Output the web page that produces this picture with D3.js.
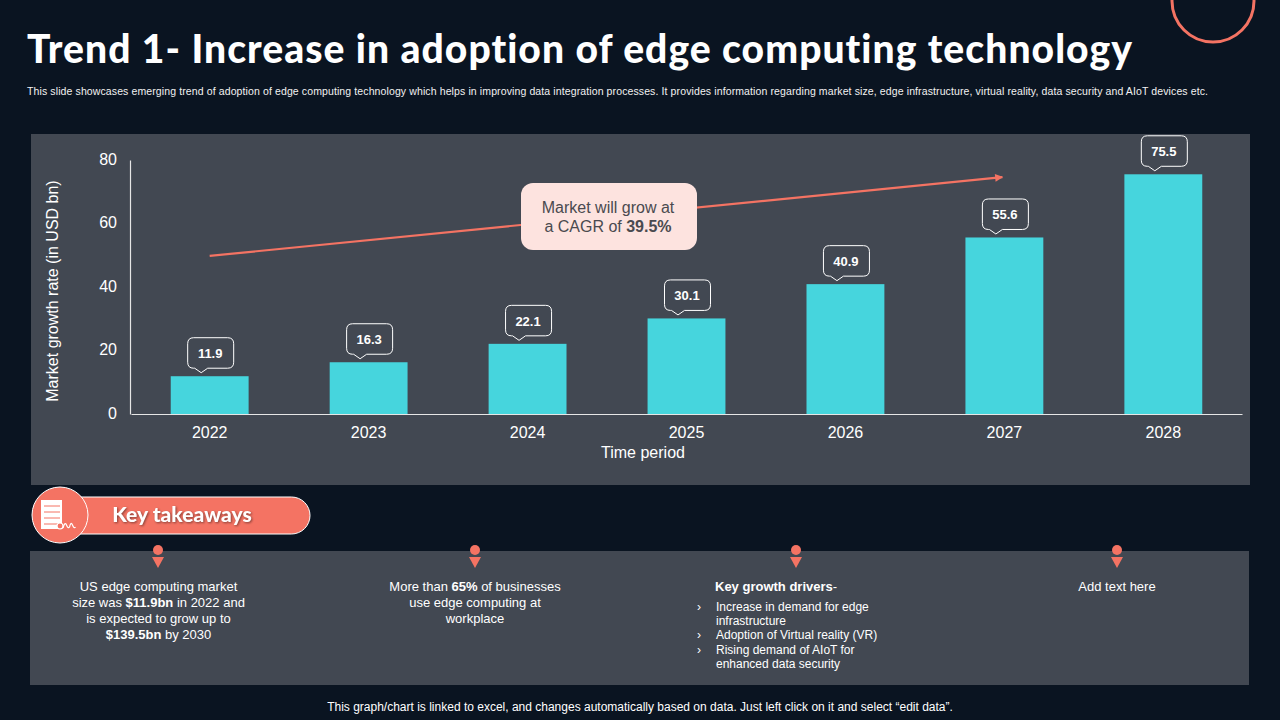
<!DOCTYPE html>
<html>
<head>
<meta charset="utf-8">
<script src="https://cdn.jsdelivr.net/npm/d3@7"></script>
<style>
  html, body { margin: 0; padding: 0; background: #0a1421; overflow: hidden; }
  text { font-family: "Liberation Sans", Arial, sans-serif; }
</style>
</head>
<body>
<div id="chart"></div>
<script>
// chart data
const years = ["2022", "2023", "2024", "2025", "2026", "2027", "2028"];
const marketSize = [11.9, 16.3, 22.1, 30.1, 40.9, 55.6, 75.5];
const yTicks = [0, 20, 40, 60, 80];
const trendYears = ["2022", "2027"];
const trendValues = [49.8, 74.6];

const width = 1280, height = 720;
const coral = "#f47363", teal = "#46d5dd", panel = "#424852";

const svg = d3.select("#chart").append("svg")
  .attr("width", width)
  .attr("height", height)
  .style("display", "block");

svg.append("rect").attr("width", width).attr("height", height).attr("fill", "#0a1421");

// corner circle, mostly off the slide
svg.append("circle").attr("cx", 1213).attr("cy", 1).attr("r", 41)
  .attr("fill", "none").attr("stroke", coral).attr("stroke-width", 3);

svg.append("text")
  .attr("x", 27).attr("y", 63)
  .attr("font-weight", 900).attr("font-size", 39)
  .attr("textLength", 1105).attr("lengthAdjust", "spacing")
  .attr("fill", "#fff")
  .style("font-family", "Lato")
  .style("font-variant-ligatures", "none")
  .text("Trend 1- Increase in adoption of edge computing technology");

svg.append("text")
  .attr("x", 27).attr("y", 94.5)
  .attr("font-size", 10.5).attr("fill", "#f2f2f2")
  .attr("textLength", 1181).attr("lengthAdjust", "spacing")
  .text("This slide showcases emerging trend of adoption of edge computing technology which helps in improving data integration processes. It provides information regarding market size, edge infrastructure, virtual reality, data security and AIoT devices etc.");

// panels
svg.append("rect").attr("x", 31).attr("y", 134).attr("width", 1219).attr("height", 351).attr("fill", panel);
svg.append("rect").attr("x", 30).attr("y", 551).attr("width", 1219).attr("height", 134).attr("fill", panel);

// scales
const x = d3.scaleBand().domain(years).range([131, 1242]).paddingInner(0.51).paddingOuter(0.25);
const y = d3.scaleLinear().domain([0, 80]).range([414, 160]);

// bars
svg.append("g").selectAll("rect")
  .data(marketSize)
  .join("rect")
    .attr("x", (d, i) => x(years[i]))
    .attr("y", d => y(d))
    .attr("width", x.bandwidth())
    .attr("height", d => y(0) - y(d))
    .attr("fill", teal);

// axes
const xAxis = svg.append("g")
  .attr("transform", "translate(0," + y(0) + ")")
  .call(d3.axisBottom(x).tickSize(0).tickPadding(13));
const yAxis = svg.append("g")
  .attr("transform", "translate(130,0)")
  .call(d3.axisLeft(y).tickValues(yTicks).tickSize(0).tickPadding(13));
[xAxis, yAxis].forEach(a => {
  a.select(".domain").attr("stroke", "#e6e6e6").attr("stroke-width", 1.2);
  a.selectAll("text").attr("fill", "#fff").attr("font-size", 16)
    .style("font-family", '"Liberation Sans", Arial, sans-serif');
});
yAxis.selectAll("text").attr("dy", "0.28em");

svg.append("text")
  .attr("x", 643).attr("y", 458).attr("text-anchor", "middle")
  .attr("font-size", 16).attr("fill", "#fff").text("Time period");
svg.append("text")
  .attr("transform", "translate(58,291)rotate(-90)").attr("text-anchor", "middle")
  .attr("font-size", 16).attr("fill", "#fff").text("Market growth rate (in USD bn)");

// trend arrow
svg.append("defs").append("marker")
  .attr("id", "arrow").attr("viewBox", "0 0 10 10")
  .attr("refX", 9).attr("refY", 5)
  .attr("markerWidth", 9).attr("markerHeight", 8)
  .attr("markerUnits", "userSpaceOnUse")
  .attr("orient", "auto")
  .append("path").attr("d", "M0,0L10,5L0,10Z").attr("fill", coral);

const bandCenter = yr => x(yr) + x.bandwidth() / 2;
svg.append("line")
  .attr("x1", bandCenter(trendYears[0])).attr("y1", y(trendValues[0]))
  .attr("x2", bandCenter(trendYears[1]) - 2).attr("y2", y(trendValues[1]))
  .attr("stroke", coral).attr("stroke-width", 2.2)
  .attr("marker-end", "url(#arrow)");

// CAGR box
svg.append("rect").attr("x", 521).attr("y", 183).attr("width", 176).attr("height", 67)
  .attr("rx", 12).attr("fill", "#fde3df");
svg.append("text").attr("x", 608).attr("y", 213).attr("text-anchor", "middle")
  .attr("font-size", 16).attr("fill", "#4a4a4f").text("Market will grow at");
const cagr = svg.append("text").attr("x", 608).attr("y", 232).attr("text-anchor", "middle")
  .attr("font-size", 16).attr("fill", "#4a4a4f");
cagr.append("tspan").text("a CAGR of ");
cagr.append("tspan").attr("font-weight", 700).text("39.5%");

// value callouts, box sits a little right of the bar with the tail left of centre
function bubblePath(cx, tip) {
  const w = 46, h = 30.5, r = 6, bottom = tip - 4.5, top = bottom - h;
  const l = cx - w / 2, rgt = cx + w / 2;
  return "M" + (l + r) + "," + top +
    "H" + (rgt - r) + "Q" + rgt + "," + top + " " + rgt + "," + (top + r) +
    "V" + (bottom - r) + "Q" + rgt + "," + bottom + " " + (rgt - r) + "," + bottom +
    "H" + (cx - 3) + "L" + (cx - 9.5) + "," + tip + "L" + (cx - 16) + "," + bottom +
    "H" + (l + r) + "Q" + l + "," + bottom + " " + l + "," + (bottom - r) +
    "V" + (top + r) + "Q" + l + "," + top + " " + (l + r) + "," + top + "Z";
}
const bubbles = svg.append("g").selectAll("g").data(marketSize).join("g");
bubbles.append("path")
  .attr("d", (d, i) => bubblePath(bandCenter(years[i]) + 1, y(d) - 3.5))
  .attr("fill", panel).attr("stroke", "#fff").attr("stroke-width", 1);
bubbles.append("text")
  .attr("x", (d, i) => bandCenter(years[i]) + 0.5)
  .attr("y", d => y(d) - 18)
  .attr("text-anchor", "middle")
  .attr("font-size", 13).attr("font-weight", 700).attr("fill", "#fff")
  .text(d => d);

// key takeaways banner
svg.append("rect").attr("x", 60).attr("y", 497).attr("width", 250).attr("height", 37)
  .attr("rx", 18.5).attr("fill", coral).attr("stroke", "#fff").attr("stroke-width", 1);
svg.append("circle").attr("cx", 60).attr("cy", 515).attr("r", 28)
  .attr("fill", coral).attr("stroke", "#fff").attr("stroke-width", 1);
svg.append("text")
  .attr("x", 182).attr("y", 522).attr("text-anchor", "middle")
  .attr("font-size", 21).attr("font-weight", 900).attr("fill", "#fff")
  .style("font-family", "Lato")
  .style("filter", "drop-shadow(1px 1px 1px rgba(0,0,0,0.45))")
  .text("Key takeaways");

// list icon inside the circle
const icon = svg.append("g");
icon.append("rect").attr("x", 41).attr("y", 500).attr("width", 21).attr("height", 29).attr("fill", "#fff");
[506, 512, 518, 524].forEach(ly => {
  icon.append("line").attr("x1", 44).attr("x2", 60).attr("y1", ly).attr("y2", ly)
    .attr("stroke", coral).attr("stroke-width", 1);
});
icon.append("circle").attr("cx", 60).attr("cy", 526).attr("r", 3).attr("fill", coral).attr("stroke", "#fff").attr("stroke-width", 1.2);
icon.append("path").attr("d", "M63,528q2,-7 3.5,-3t3,2q1.5,-6 3,-2t3,2")
  .attr("fill", "none").attr("stroke", "#fff").attr("stroke-width", 1.2);

// pins above each takeaway
[158, 475, 796, 1117].forEach(px => {
  svg.append("circle").attr("cx", px).attr("cy", 550).attr("r", 5).attr("fill", coral);
  svg.append("path").attr("d", "M" + (px - 6) + ",557H" + (px + 6) + "L" + px + ",568Z").attr("fill", coral);
});

// takeaway text: each line is a list of [text, bold] runs
function textLines(cx, lines, anchor, size) {
  lines.forEach(l => {
    const t = svg.append("text").attr("x", l.x || cx).attr("y", l.y)
      .attr("text-anchor", anchor).attr("font-size", l.size || size).attr("fill", "#fff");
    l.runs.forEach(r => {
      t.append("tspan").attr("font-weight", r[1] ? 700 : 400).text(r[0]);
    });
  });
}

textLines(158.5, [
  {y: 591, runs: [["US edge computing market", 0]]},
  {y: 607, runs: [["size was ", 0], ["$11.9bn", 1], [" in 2022 and", 0]]},
  {y: 623, runs: [["is expected to grow up to", 0]]},
  {y: 639, runs: [["$139.5bn", 1], [" by 2030", 0]]}
], "middle", 13);

textLines(475, [
  {y: 591, runs: [["More than ", 0], ["65%", 1], [" of businesses", 0]]},
  {y: 607, runs: [["use edge computing at", 0]]},
  {y: 623, runs: [["workplace", 0]]}
], "middle", 13);

textLines(716, [
  {y: 591, x: 715, size: 13, runs: [["Key growth drivers", 1], ["-", 0]]},
  {y: 611, runs: [["Increase in demand for edge", 0]]},
  {y: 625, runs: [["infrastructure", 0]]},
  {y: 639, runs: [["Adoption of Virtual reality (VR)", 0]]},
  {y: 654, runs: [["Rising demand of AIoT for", 0]]},
  {y: 668, runs: [["enhanced data security", 0]]}
], "start", 12);

[611, 639, 654].forEach(by => {
  svg.append("text").attr("x", 697).attr("y", by).attr("font-size", 12).attr("fill", "#fff").text("›");
});

textLines(1117, [{y: 591, runs: [["Add text here", 0]]}], "middle", 13);

svg.append("text")
  .attr("x", 640).attr("y", 711).attr("text-anchor", "middle")
  .attr("font-size", 12).attr("fill", "#fff")
  .text("This graph/chart is linked to excel, and changes automatically based on data. Just left click on it and select “edit data”.");
</script>
</body>
</html>
